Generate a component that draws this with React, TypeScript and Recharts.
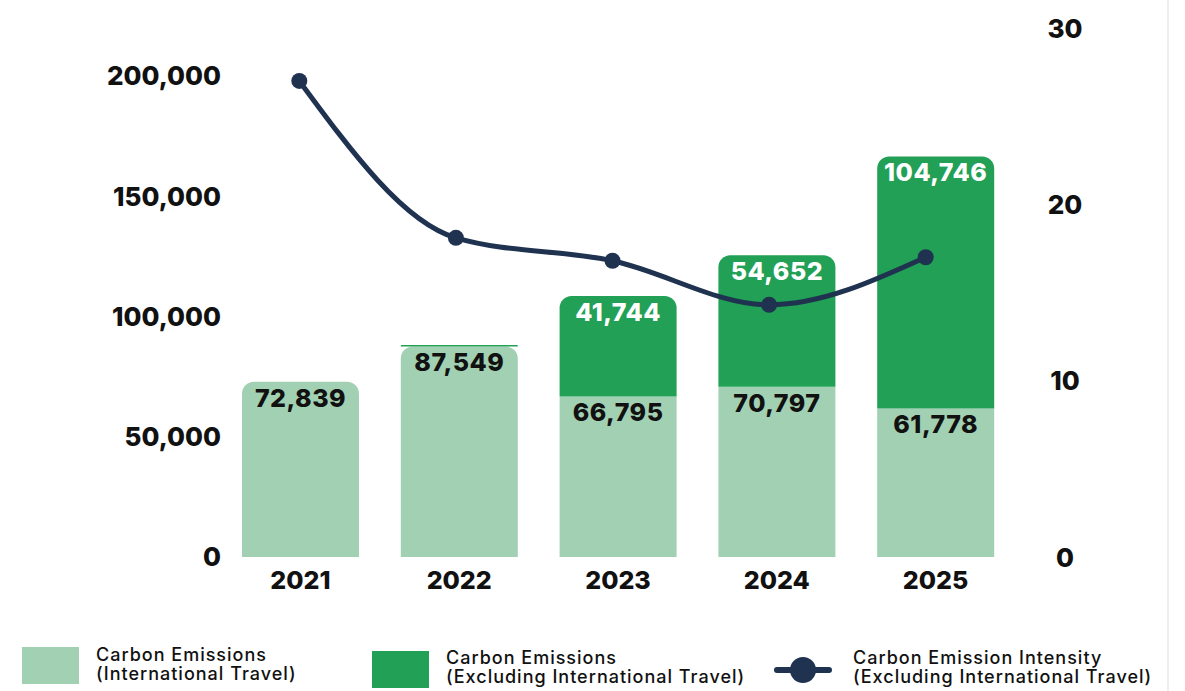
import { ComposedChart, Bar, Line, XAxis, YAxis, LabelList, Cell } from "recharts";

const years = ["2021", "2022", "2023", "2024", "2025"];
const intlTravel = [72839, 87549, 66795, 70797, 61778];
const exclIntl = [0, 600, 41744, 54652, 104746];
const intensity = [27.0, 18.1, 16.8, 14.3, 17.0];
const leftTicks = [0, 50000, 100000, 150000, 200000];
const rightTicks = [0, 10, 20, 30];

const LIGHT = "#A2D0B3";
const DARK = "#21A056";
const NAVY = "#1F3350";
const FONT = "Inter, 'Noto Sans', sans-serif";

const data = years.map((year, i) => ({
    year,
    intl: intlTravel[i],
    excl: exclIntl[i],
    intensity: intensity[i],
}));

const fmt = (v: any) => (Number(v) >= 5000 ? Number(v).toLocaleString("en-US") : "");

const RightTick = ({ x, y, payload }: any) => (
    <text x={x + 50} y={y} textAnchor="middle" dominantBaseline="central" fontFamily={FONT} fontWeight={800} fontSize={26} fill="#111">
        {payload.value}
    </text>
);

const labelStyle = { fontFamily: FONT, fontWeight: 800, fontSize: 25, letterSpacing: 0.5 };
const legendText = { position: "absolute" as const, fontSize: 18, fontWeight: 500, lineHeight: "19px", letterSpacing: 1, color: "#111" };

export default function App() {
    return (
        <div style={{ position: "absolute", left: 0, top: 0, width: 1185, height: 691, background: "#fff", fontFamily: FONT }}>
            <div style={{ position: "absolute", left: 1167, top: 0, width: 2, height: 691, background: "#EEEEEE" }} />
            <ComposedChart width={1160} height={610} data={data} margin={{ top: 28, right: 0, bottom: 0, left: 0 }}>
                <XAxis
                    dataKey="year"
                    axisLine={false}
                    tickLine={false}
                    tickMargin={8}
                    tick={{ fontFamily: FONT, fontWeight: 800, fontSize: 25, fill: "#111" }}
                    height={53}
                />
                <XAxis xAxisId="line" dataKey="year" hide padding={{ left: 0, right: 11 }} />
                <YAxis
                    yAxisId="left"
                    domain={[0, 220000]}
                    ticks={leftTicks}
                    axisLine={false}
                    tickLine={false}
                    tickSize={0}
                    tickMargin={0}
                    width={221}
                    tickFormatter={(v: number) => v.toLocaleString("en-US")}
                    tick={{ fontFamily: FONT, fontWeight: 800, fontSize: 26, fill: "#111" }}
                />
                <YAxis
                    yAxisId="right"
                    orientation="right"
                    domain={[0, 30]}
                    ticks={rightTicks}
                    axisLine={false}
                    tickLine={false}
                    tickSize={0}
                    tickMargin={0}
                    width={145}
                    tick={<RightTick />}
                />
                <Bar yAxisId="left" dataKey="intl" stackId="a" fill={LIGHT} barSize={117} isAnimationActive={false}>
                    {data.map((d, i) => (
                        <Cell key={i} fill={LIGHT} radius={(d.excl < 5000 ? [12, 12, 0, 0] : [0, 0, 0, 0]) as any} />
                    ))}
                    <LabelList dataKey="intl" position="insideTop" offset={7} formatter={fmt} fill="#111" {...labelStyle} />
                </Bar>
                <Bar yAxisId="left" dataKey="excl" stackId="a" fill={DARK} barSize={117} radius={[12, 12, 0, 0]} isAnimationActive={false}>
                    <LabelList dataKey="excl" position="insideTop" offset={7} formatter={fmt} fill="#fff" {...labelStyle} />
                </Bar>
                <Line
                    yAxisId="right"
                    xAxisId="line"
                    type="monotone"
                    dataKey="intensity"
                    stroke={NAVY}
                    strokeWidth={5}
                    dot={{ r: 8, fill: NAVY, stroke: NAVY, strokeWidth: 0 }}
                    activeDot={false}
                    isAnimationActive={false}
                />
            </ComposedChart>
            <div style={{ position: "absolute", left: 22, top: 647, width: 57, height: 37, background: LIGHT }} />
            <div style={{ ...legendText, left: 96, top: 645 }}>
                Carbon Emissions<br />(International Travel)
            </div>
            <div style={{ position: "absolute", left: 372, top: 651, width: 57, height: 37, background: DARK }} />
            <div style={{ ...legendText, left: 446, top: 648 }}>
                Carbon Emissions<br />(Excluding International Travel)
            </div>
            <svg style={{ position: "absolute", left: 774, top: 654 }} width={58} height={32}>
                <line x1={3} y1={16} x2={55} y2={16} stroke={NAVY} strokeWidth={6} strokeLinecap="round" />
                <circle cx={29} cy={16} r={13} fill={NAVY} />
            </svg>
            <div style={{ ...legendText, left: 853, top: 648 }}>
                Carbon Emission Intensity<br />(Excluding International Travel)
            </div>
        </div>
    );
}
